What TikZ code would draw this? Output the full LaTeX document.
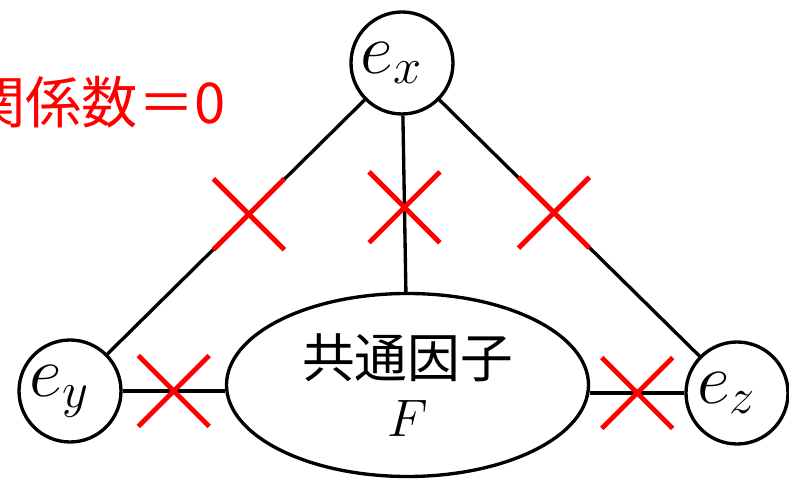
\RequirePackage{fix-cm}
\documentclass[tikz,border=0pt]{standalone}
\usepackage{fontspec}
\newfontfamily\cjk{Noto Sans CJK JP}
\usetikzlibrary{shapes.geometric, shapes.misc}

\begin{document}
\begin{tikzpicture}[
  err/.style={circle, draw, line width=1.9pt, minimum size=2.04cm,
              inner sep=0pt, font=\fontsize{41}{41}\selectfont,
              execute at end node={\kern0.42cm}},
  factor/.style={ellipse, draw, line width=1.9pt, minimum width=7.24cm,
              minimum height=3.66cm, inner sep=0pt, align=center,
              font=\cjk\fontsize{30}{34}\selectfont},
  link/.style={line width=1.9pt},
  nocorr/.style={cross out, draw=red, line width=2.8pt,
              minimum size=1.32cm, inner sep=0pt}
]
\useasboundingbox (0,0) rectangle (15.78,-9.62);

\node[factor] (fac) at (8.15,-7.70) {共通因子\\$F$};
\node[err] (ex) at (8.04,-1.26) {$e_x$};
\node[err] (ey) at (1.40,-7.82) {$e_y$};
\node[err] (ez) at (14.74,-7.86) {$e_z$};
\node[anchor=base west, inner sep=0pt, text=red,
      font=\cjk\fontsize{32}{34}\selectfont] (corr) at (-0.62,-2.48) {関係数＝0};

\draw[link] (ex) -- node[nocorr, pos=0.45] {} (ey);
\draw[link] (ex) -- node[nocorr, pos=0.44] {} (ez);
\draw[link] (ex) -- node[nocorr, pos=0.52] {} (fac);
\draw[link] (ey) -- node[nocorr] {} (ey -| fac.west);
\draw[link] (fac.east |- ez) -- node[nocorr] {} (ez);
\end{tikzpicture}
\end{document}
